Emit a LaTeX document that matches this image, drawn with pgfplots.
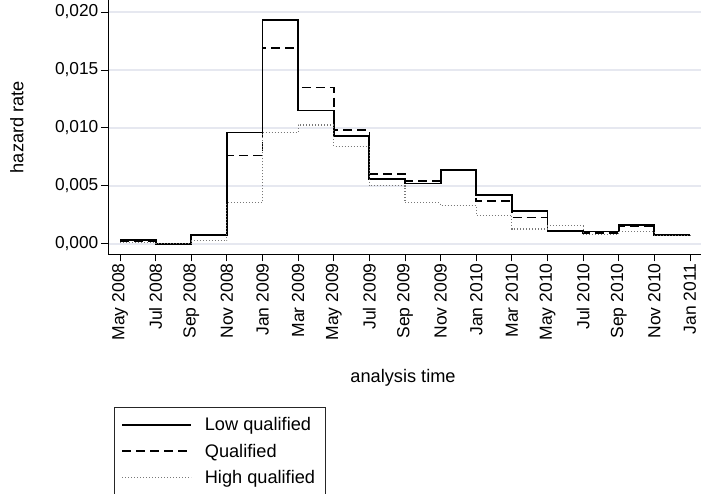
\documentclass[border=0pt]{standalone}
\usepackage{pgfplots}
\pgfplotsset{compat=1.18}
\usepackage{fontspec}
\setmainfont{Liberation Sans}
\definecolor{gridc}{RGB}{230,232,240}
\definecolor{dotc}{RGB}{120,120,120}
\begin{document}
\begin{tikzpicture}[x=1pt,y=1pt]
\path[use as bounding box] (0,0) rectangle (701,493);
\begin{axis}[
  at={(108pt,238.7pt)}, anchor=south west,
  scale only axis, width=593pt, height=254.3pt,
  xmin=-0.337, xmax=16.31,
  ymin=-0.000915, ymax=0.02104,
  axis lines*=left,
  axis line style={black, line width=0.9pt},
  xtick={0,...,16},
  xticklabels={May 2008,Jul 2008,Sep 2008,Nov 2008,Jan 2009,Mar 2009,May 2009,Jul 2009,Sep 2009,Nov 2009,Jan 2010,Mar 2010,May 2010,Jul 2010,Sep 2010,Nov 2010,Jan 2011},
  xticklabel style={rotate=90, anchor=east, font=\fontsize{17.5}{20}\selectfont, inner sep=2pt},
  ytick={0,0.005,0.01,0.015,0.02},
  yticklabels={{0,000},{0,005},{0,010},{0,015},{0,020}},
  yticklabel style={font=\fontsize{17.3}{20}\selectfont, inner sep=2.5pt},
  /pgf/number format/assume math mode=true,
  tick align=outside, major tick length=7pt,
  tick style={black, line width=0.9pt},
  ymajorgrids, grid style={gridc, line width=1.6pt},
  xlabel={analysis time}, ylabel={hazard rate},
  label style={font=\fontsize{18.2}{20}\selectfont},
  xlabel style={at={(axis description cs:0.4975,-0.4864)}, anchor=center},
  ylabel style={at={(axis description cs:-0.1535,0.5)}, anchor=center},
  legend cell align=left,
  legend style={at={(rel axis cs:0.0101,-0.5993)}, anchor=north west,
    draw=black!85, line width=0.9pt, font=\fontsize{18.2}{20}\selectfont,
    inner xsep=7pt, inner ysep=7pt, row sep=4.5pt,
    nodes={inner sep=3.5pt},
    /tikz/every odd column/.append style={column sep=9pt}},
  legend image code/.code={\draw[#1] (0pt,0pt) -- (69pt,0pt);},
]
\addplot[const plot, black, line width=1.9pt] coordinates {
(0,0.0003) (1,0) (2,0.00075) (3,0.0096) (4,0.0193) (5,0.0115) (6,0.0093) (7,0.0056)
(8,0.0052) (9,0.0064) (10,0.0042) (11,0.0028) (12,0.0011) (13,0.00105) (14,0.00165) (15,0.00072) (16,0.00072)};
\addlegendentry{Low qualified}
\addplot[const plot, black, line width=1.6pt, dash pattern=on 9pt off 5pt] coordinates {
(0,0.00025) (1,0) (2,0.0007) (3,0.0076) (4,0.0169) (5,0.0135) (6,0.0098) (7,0.0060)
(8,0.0054) (9,0.0064) (10,0.0037) (11,0.00225) (12,0.0011) (13,0.0009) (14,0.0015) (15,0.0007) (16,0.0007)};
\addlegendentry{Qualified}
\addplot[const plot, dotc, line width=1.1pt, dash pattern=on 1pt off 2pt] coordinates {
(0,0.0001) (1,0) (2,0.00026) (3,0.00354) (4,0.0096) (5,0.01025) (6,0.0084) (7,0.0050)
(8,0.00354) (9,0.0033) (10,0.00245) (11,0.00127) (12,0.00155) (13,0.00081) (14,0.00107) (15,0.00068) (16,0.00068)};
\addlegendentry{High qualified}
\end{axis}
\end{tikzpicture}
\end{document}
